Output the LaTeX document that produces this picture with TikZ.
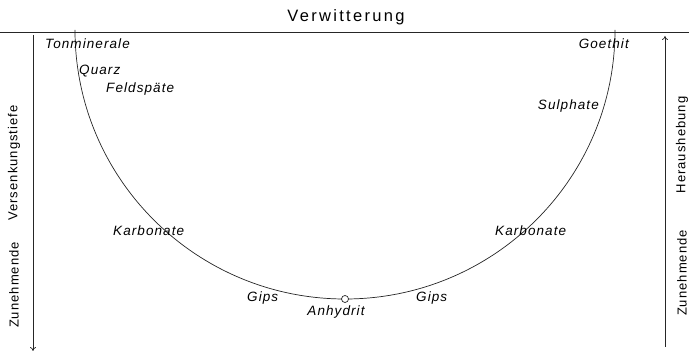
\documentclass[tikz,border=0pt]{standalone}
\usepackage{fontspec}
\setmainfont{Liberation Sans}[LetterSpace=8]
\usetikzlibrary{arrows.meta}
\tikzset{
  mineral/.style={font=\fontsize{13.5}{15}\selectfont\itshape, inner sep=0pt},
  axislabel/.style={font=\fontsize{13}{15}\selectfont, inner sep=0pt, rotate=90},
  titlelabel/.style={font=\fontsize{16.5}{18}\selectfont\addfontfeatures{LetterSpace=14}, inner sep=0pt},
  thinline/.style={line width=0.7pt, black!85},
  axisarrow/.style={line width=0.7pt, black!85, -{To[length=4pt,width=6pt]}},
}
\begin{document}
\begin{tikzpicture}[x=1pt,y=-1pt]
\useasboundingbox (0,0) rectangle (689,352);
% top line
\coordinate (tl) at (0,32);
\coordinate (tr) at (689,32);
\draw[thinline] (tl) -- (tr);
\node[titlelabel] (verw) at (346,17) {Verwitterung};
% arrows
\coordinate (la1) at (33,35);
\coordinate (la2) at (33,351);
\draw[axisarrow] (la1) -- (la2);
\coordinate (ra1) at (665,347);
\coordinate (ra2) at (665,36);
\draw[axisarrow] (ra1) -- (ra2);
\node[axislabel] (lz) at (14,285) {Zunehmende};
\node[axislabel] (lv) at (14,163) {Versenkungstiefe};
\node[axislabel] (rz) at (682,273) {Zunehmende};
\node[axislabel] (rh) at (682,145) {Heraushebung};
% curve
\coordinate (cstart) at (75,30);
\draw[thinline] (cstart) arc[start angle=180, end angle=0, x radius=270, y radius=269];
\node[draw, thinline, circle, fill=white, inner sep=0pt, minimum size=7pt] (anh) at (345,299) {};
% labels
\node[mineral, anchor=west] (ton) at (45,44) {Tonminerale};
\node[mineral, anchor=east] (goe) at (629,44) {Goethit};
\node[mineral, anchor=west] (qua) at (79,71) {Quarz};
\node[mineral, anchor=west] (fel) at (106,89) {Feldspäte};
\node[mineral, anchor=east] (sul) at (599,106) {Sulphate};
\node[mineral, anchor=west] (kal) at (113,231) {Karbonate};
\node[mineral, anchor=west] (kar) at (495,231) {Karbonate};
\node[mineral, anchor=west] (gil) at (247,298) {Gips};
\node[mineral, anchor=west] (gir) at (416,298) {Gips};
\node[mineral] (anhl) at (336,312) {Anhydrit};
\end{tikzpicture}
\end{document}
